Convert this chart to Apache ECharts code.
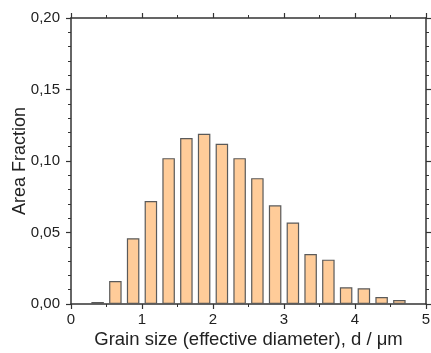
<!DOCTYPE html>
<html><head><meta charset="utf-8">
<script src="https://cdn.jsdelivr.net/npm/echarts@6/dist/echarts.min.js"></script>
<style>html,body{margin:0;padding:0;background:#fff}#c{width:431px;height:353px}</style>
</head><body><div id="c"></div>
<script>
const binCenters = [0.375,0.625,0.875,1.125,1.375,1.625,1.875,2.125,2.375,2.625,2.875,3.125,3.375,3.625,3.875,4.125,4.375,4.625];
const areaFraction = [0.0014,0.016,0.046,0.072,0.102,0.116,0.119,0.112,0.102,0.088,0.069,0.057,0.035,0.031,0.0117,0.011,0.0049,0.0028];
const xTitle = 'Grain size (effective diameter), d / \u03bcm';
const yTitle = 'Area Fraction';

const chart = echarts.init(document.getElementById('c'));
const font = 'Liberation Sans, Arial, sans-serif';
const axisColor = '#333';
const common = {
  axisLine: {show: true, onZero: false, lineStyle: {color: axisColor, width: 1.5}},
  axisTick: {show: true, inside: false, length: 5, lineStyle: {color: axisColor, width: 1.2}},
  minorTick: {show: true, length: 3, lineStyle: {color: axisColor, width: 1}},
  splitLine: {show: false}
};
chart.setOption({
  animation: false,
  grid: {left: 71, right: 5, top: 18, bottom: 49, containLabel: false, outerBoundsMode: 'none'},
  xAxis: [
    Object.assign({type: 'value', min: 0, max: 5, interval: 1, position: 'bottom',
      name: xTitle, nameLocation: 'middle', nameGap: 26, nameMoveOverlap: false,
      nameTextStyle: {fontFamily: font, fontSize: 18.5, color: '#222'},
      axisLabel: {fontFamily: font, fontSize: 15, color: '#222', margin: 8}}, common,
      {minorTick: {show: true, splitNumber: 2, length: 3, lineStyle: {color: axisColor, width: 1}}}),
    Object.assign({type: 'value', min: 0, max: 5, interval: 1, position: 'top',
      axisLabel: {show: false}}, common,
      {minorTick: {show: true, splitNumber: 2, length: 3, lineStyle: {color: axisColor, width: 1}}})
  ],
  yAxis: [
    Object.assign({type: 'value', min: 0, max: 0.2, interval: 0.05, position: 'left',
      name: yTitle, nameLocation: 'middle', nameGap: 42, nameMoveOverlap: false,
      nameTextStyle: {fontFamily: font, fontSize: 18, color: '#222'},
      axisLabel: {fontFamily: font, fontSize: 15, color: '#222', margin: 11,
        formatter: v => v.toFixed(2).replace('.', ',')}}, common,
      {minorTick: {show: true, splitNumber: 5, length: 3, lineStyle: {color: axisColor, width: 1}}}),
    Object.assign({type: 'value', min: 0, max: 0.2, interval: 0.05, position: 'right',
      axisLabel: {show: false}}, common,
      {minorTick: {show: true, splitNumber: 5, length: 3, lineStyle: {color: axisColor, width: 1}}})
  ],
  series: [{
    type: 'bar',
    xAxisIndex: 0, yAxisIndex: 0,
    barWidth: 12.5,
    data: binCenters.map((x, i) => [x, areaFraction[i]]),
    itemStyle: {color: '#FFCC99', borderColor: '#5a5a5a', borderWidth: 1.2}
  }]
});
</script>
</body></html>
